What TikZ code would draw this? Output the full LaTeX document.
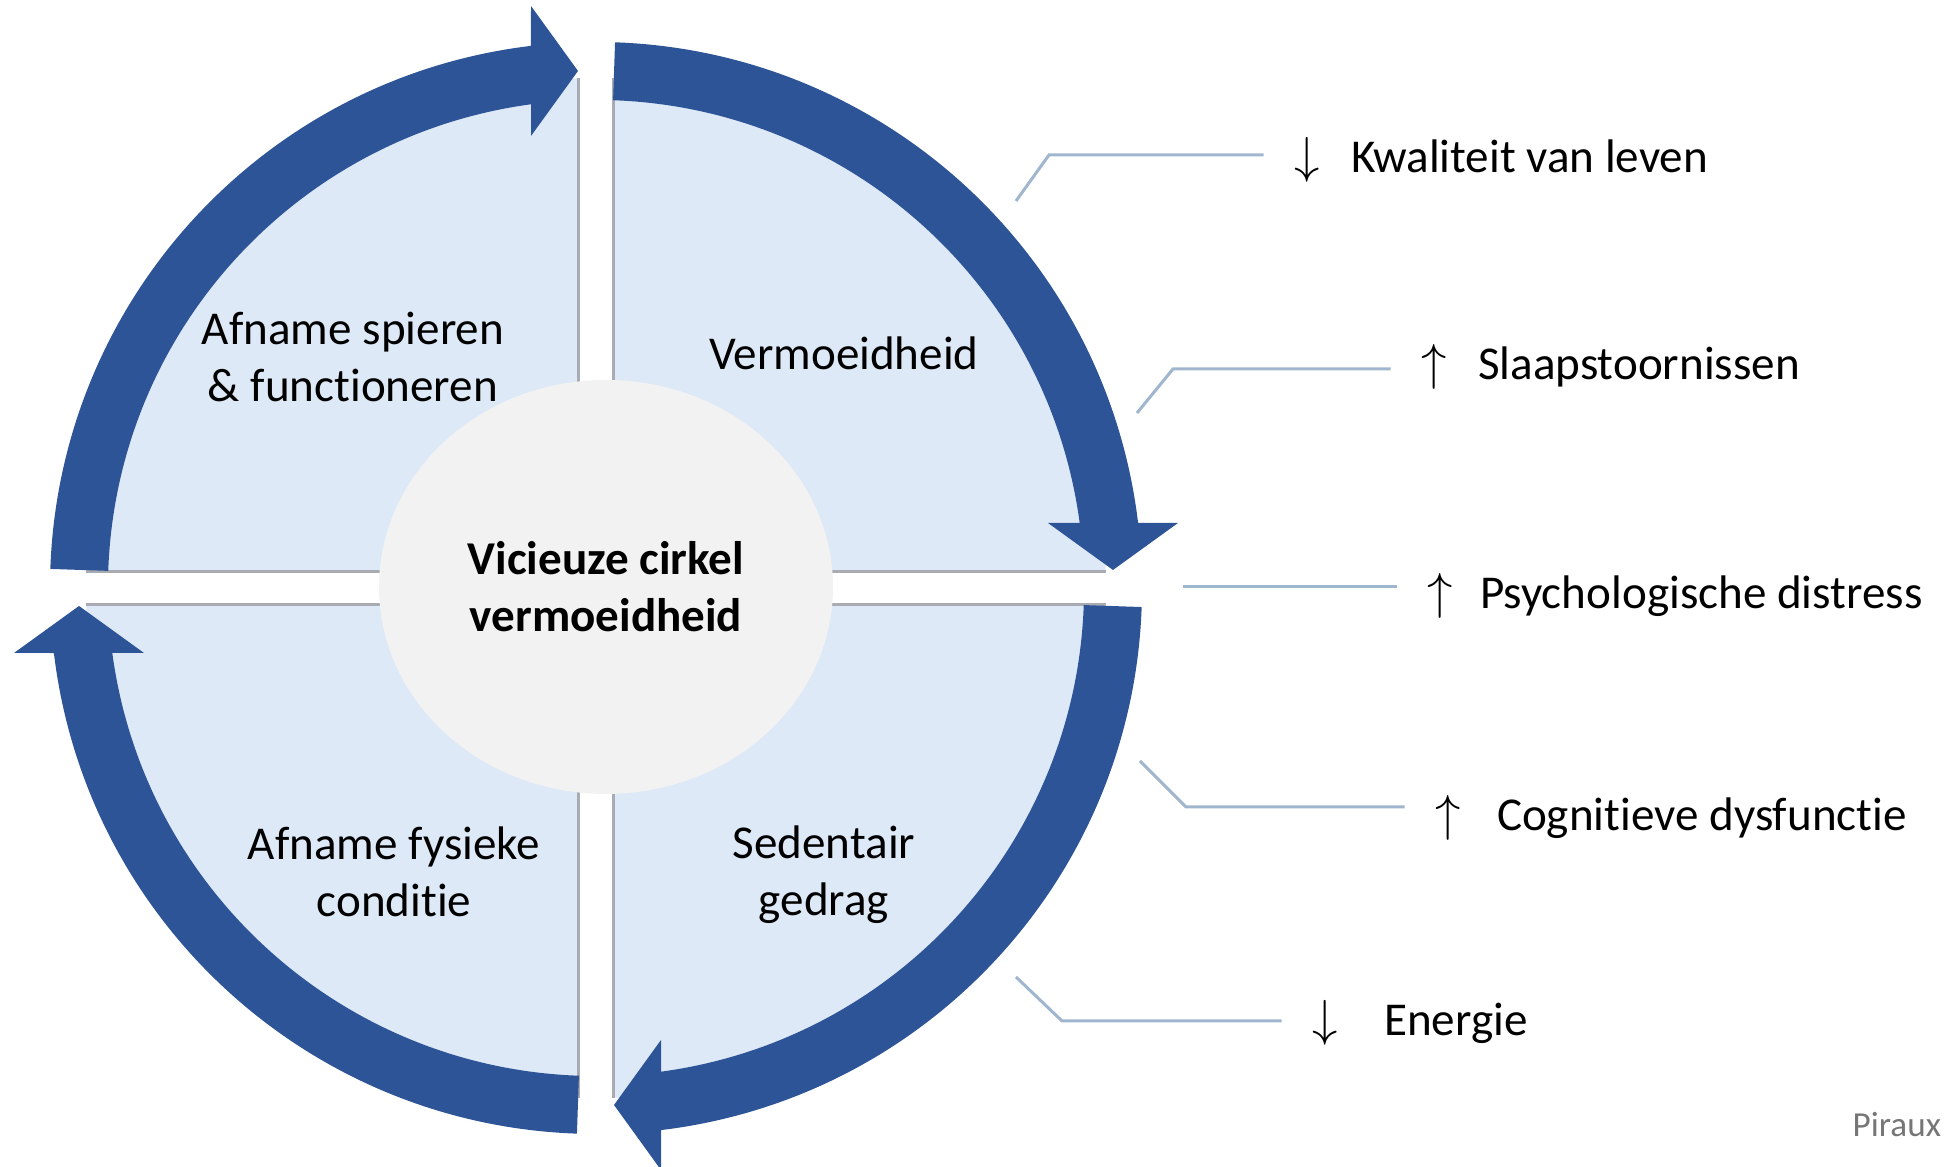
\documentclass[tikz,border=0pt]{standalone}
\usepackage{fontspec}
\setmainfont{Carlito}[Ligatures=NoCommon]
\usepackage{tikz}
\usetikzlibrary{shapes.geometric}
\usetikzlibrary{positioning}
\definecolor{BandBlue}{RGB}{46,84,152}
\definecolor{QuadBlue}{RGB}{221,233,246}
\definecolor{RimGray}{RGB}{168,172,178}
\definecolor{FeedBlue}{RGB}{160,182,206}
\definecolor{CoreGray}{RGB}{242,242,242}
\definecolor{BronGray}{RGB}{118,118,118}

\begin{document}
\begin{tikzpicture}[
    band/.style={fill=BandBlue},
    rim/.style={draw=RimGray, line width=0.03cm},
    feed/.style={draw=FeedBlue, line width=0.03cm, shorten >=0.3cm},
    quadtext/.style={align=center, font=\fontsize{13.4}{16.2}\selectfont},
    pijl/.style={inner sep=0pt, anchor=base, font=\fontsize{13.4}{16.2}\selectfont},
    effect/.style={inner sep=0pt, anchor=base west, font=\fontsize{13.4}{16.2}\selectfont}]
\useasboundingbox (0,0) rectangle (19.47,11.67);
\fill[white] (0,0) rectangle (19.47,11.67);
\coordinate (M) at (5.96,5.79);
\fill[QuadBlue] (M) circle (5.1);
\fill[white] (5.78,0.5) rectangle (6.13,11.1);
\fill[white] (0.7,5.62) rectangle (11.2,5.95);
\draw[rim] (5.78,0.69) -- (5.78,10.89);
\draw[rim] (6.13,0.69) -- (6.13,10.89);
\draw[rim] (0.86,5.95) -- (11.06,5.95);
\draw[rim] (0.86,5.62) -- (11.06,5.62);
\foreach \q in {90,0,-90,180}
  \fill[band, shift={(M)}, rotate=\q] (88:5.46) arc[start angle=88, end angle=6.84, radius=5.46]
    -- (5.82,0.65) -- (5.17,0.18) -- (4.52,0.65) -- (4.837,0.65)
    arc[start angle=7.65, end angle=88, radius=4.88] -- cycle;
\node[ellipse, fill=CoreGray, minimum width=4.54cm, minimum height=4.14cm, align=center,
      font=\bfseries\fontsize{13.4}{16.2}\selectfont] (Cirkel) at (6.06,5.80) {Vicieuze cirkel\\vermoeidheid};
\node[quadtext] (Spieren) at (3.53,8.10) {Afname spieren\\\& functioneren};
\node[quadtext] (Vermoeid) at (8.44,8.14) {Vermoeidheid};
\node[quadtext] (Fysiek) at (3.94,2.95) {Afname fysieke\\conditie};
\node[quadtext] (Sedentair) at (8.24,2.92) {Sedentair\\gedrag};

\node[pijl] (KwaliteitPijl) at (13.07,9.94) {$\downarrow$};
\node[effect, right=0.30cm of KwaliteitPijl.base east, anchor=base west] (Kwaliteit) {Kwaliteit van leven};
\node[pijl] (SlaapPijl) at (14.34,7.87) {$\uparrow$};
\node[effect, right=0.30cm of SlaapPijl.base east, anchor=base west] (Slaap) {Slaapstoornissen};
\node[pijl] (DistressPijl) at (14.40,5.58) {$\uparrow$};
\node[effect, right=0.26cm of DistressPijl.base east, anchor=base west] (Distress) {Psychologische distress};
\node[pijl] (CognitiefPijl) at (14.48,3.36) {$\uparrow$};
\node[effect, right=0.35cm of CognitiefPijl.base east, anchor=base west] (Cognitief) {Cognitieve dysfunctie};
\node[pijl] (EnergiePijl) at (13.25,1.31) {$\downarrow$};
\node[effect, right=0.45cm of EnergiePijl.base east, anchor=base west] (Energie) {Energie};

\coordinate (K0) at (10.16,9.66);
\coordinate (K1) at (10.49,10.12);
\coordinate (S0) at (11.37,7.54);
\coordinate (S1) at (11.73,7.98);
\coordinate (D0) at (11.83,5.80);
\coordinate (C0) at (11.40,4.06);
\coordinate (C1) at (11.86,3.60);
\coordinate (E0) at (10.16,1.90);
\coordinate (E1) at (10.62,1.46);
\draw[feed] (K0) -- (K1) -- (K1 -| KwaliteitPijl.west);
\draw[feed] (S0) -- (S1) -- (S1 -| SlaapPijl.west);
\draw[feed] (D0) -- (D0 -| DistressPijl.west);
\draw[feed] (C0) -- (C1) -- (C1 -| CognitiefPijl.west);
\draw[feed] (E0) -- (E1) -- (E1 -| EnergiePijl.west);

\node[inner sep=0pt, anchor=base west, text=BronGray, font=\fontsize{10}{12}\selectfont] (Bron) at (18.52,0.30) {Piraux};
\end{tikzpicture}
\end{document}
